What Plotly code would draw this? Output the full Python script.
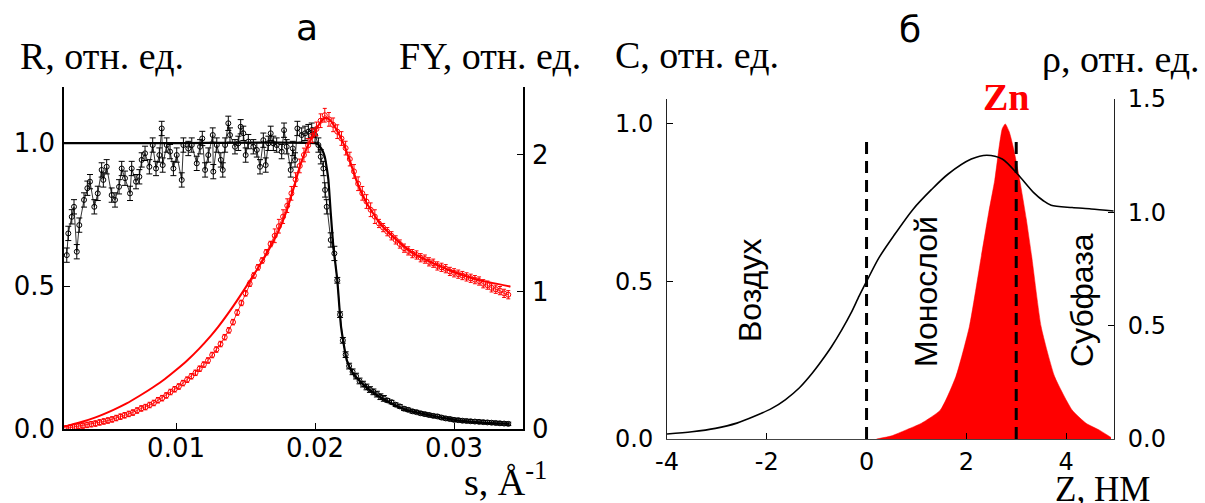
import plotly.graph_objects as go

W, H = 1205, 503

# ---------------- panel a data ----------------
s_R = [0.00214, 0.00225, 0.00250, 0.00266, 0.00286, 0.00304, 0.00338, 0.00362, 0.00381, 0.00412,
       0.00437, 0.00465, 0.00477, 0.00501, 0.00537, 0.00561, 0.00590, 0.00609, 0.00633, 0.00669,
       0.00681, 0.00712, 0.00736, 0.00753, 0.00777, 0.00808, 0.00832, 0.00856, 0.00880, 0.00897,
       0.00904, 0.00933, 0.00957, 0.00981, 0.01005, 0.01041, 0.01053, 0.01088, 0.01113, 0.01149,
       0.01173, 0.01189, 0.01209, 0.01232, 0.01264, 0.01268, 0.01293, 0.01322, 0.01336, 0.01353,
       0.01376, 0.01388, 0.01424, 0.01448, 0.01465, 0.01484, 0.01501, 0.01520, 0.01556, 0.01581,
       0.01604, 0.01628, 0.01645, 0.01664, 0.01681, 0.01700, 0.01724, 0.01760, 0.01777, 0.01796,
       0.01825, 0.01840, 0.01856, 0.01873, 0.01904, 0.01928, 0.01952, 0.01976, 0.02000, 0.02024,
       0.02041, 0.02060, 0.02072, 0.02084, 0.02113, 0.02139,
       0.02160, 0.02180, 0.02200, 0.02220, 0.02245, 0.02270, 0.02295, 0.02320, 0.02345, 0.02370,
       0.02395, 0.02420, 0.02445, 0.02470, 0.02495,
       0.02520, 0.02550, 0.02580, 0.02610, 0.02640, 0.02670, 0.02700, 0.02730, 0.02760, 0.02790,
       0.02820, 0.02850, 0.02880, 0.02910, 0.02940, 0.02970, 0.03000, 0.03030, 0.03060, 0.03090,
       0.03120, 0.03150, 0.03180, 0.03210, 0.03240, 0.03270, 0.03300, 0.03330, 0.03360, 0.03390]
R_data = [0.608, 0.684, 0.742, 0.777, 0.620, 0.713, 0.801, 0.842, 0.865, 0.777,
          0.824, 0.906, 0.871, 0.917, 0.818, 0.801, 0.847, 0.911, 0.877, 0.824,
          0.911, 0.865, 0.882, 0.941, 0.964, 0.917, 0.993, 0.911, 0.958, 1.051,
          0.923, 0.993, 0.970, 0.911, 0.958, 0.871, 0.993, 0.981, 0.993, 0.929,
          0.987, 1.016, 0.906, 0.958, 1.028, 0.900, 0.993, 0.941, 0.906, 0.993,
          1.069, 1.028, 0.987, 0.999, 1.057, 1.034, 0.958, 1.005, 0.987, 0.976,
          0.917, 1.010, 0.923, 0.999, 1.034, 0.999, 0.993, 0.970, 1.045, 0.987,
          0.906, 0.981, 0.941, 1.051, 1.028, 1.034, 1.040, 1.045, 1.028, 0.993,
          0.952, 0.911, 0.836, 0.777, 0.661, 0.614,
          0.520, 0.400, 0.310, 0.260, 0.220, 0.200, 0.185, 0.168, 0.157, 0.147,
          0.138, 0.130, 0.122, 0.113, 0.107,
          0.100, 0.094, 0.085, 0.079, 0.071, 0.067, 0.062, 0.059, 0.055, 0.052,
          0.049, 0.046, 0.044, 0.040, 0.037, 0.035, 0.032, 0.031, 0.029, 0.028,
          0.027, 0.026, 0.025, 0.024, 0.023, 0.022, 0.021, 0.020, 0.019, 0.018]
R_err = [0.025] * 86 + [0.010] * 15 + [0.006] * 30

s_R_fit = [0.00194, 0.01000, 0.02000, 0.02020, 0.02036, 0.02055, 0.02070, 0.02085, 0.02096, 0.02113,
           0.02132, 0.02160, 0.02187, 0.02228, 0.02270, 0.02324, 0.02390, 0.02463, 0.02540, 0.02626,
           0.02720, 0.02820, 0.02930, 0.03043, 0.03200, 0.03401]
R_fit = [1.000, 1.000, 1.000, 0.996, 0.987, 0.972, 0.952, 0.910, 0.871, 0.755,
         0.637, 0.521, 0.358, 0.241, 0.196, 0.166, 0.137, 0.113, 0.091, 0.072,
         0.059, 0.049, 0.038, 0.029, 0.022, 0.0175]

s_FY = [0.0021, 0.0024, 0.0027, 0.0030, 0.0033, 0.0036, 0.0039, 0.0042, 0.0045, 0.0048,
        0.0051, 0.0054, 0.0057, 0.0060, 0.0063, 0.0066, 0.0069, 0.0072, 0.0075, 0.0078,
        0.0081, 0.0084, 0.0087, 0.0090, 0.0093, 0.0096, 0.0099, 0.0102, 0.0105, 0.0108,
        0.0111, 0.0114, 0.0117, 0.0120, 0.0123, 0.0126, 0.0129, 0.0132, 0.0135, 0.0138,
        0.0141, 0.0144, 0.0147, 0.0150, 0.0153, 0.0156, 0.0159, 0.0162, 0.0165, 0.0168,
        0.0171, 0.0174, 0.0177, 0.0180, 0.0183, 0.0186, 0.0189, 0.0192, 0.0195, 0.0198,
        0.0201, 0.0204, 0.0207, 0.0210, 0.0213, 0.0216, 0.0219, 0.0222, 0.0225, 0.0228,
        0.0231, 0.0234, 0.0237, 0.0240, 0.0243, 0.0246, 0.0249, 0.0252, 0.0255, 0.0258,
        0.0261, 0.0264, 0.0267, 0.0270, 0.0273, 0.0276, 0.0279, 0.0282, 0.0285, 0.0288,
        0.0291, 0.0294, 0.0297, 0.0300, 0.0303, 0.0306, 0.0309, 0.0312, 0.0315, 0.0318,
        0.0321, 0.0324, 0.0327, 0.0330, 0.0333, 0.0336, 0.0339]
FY_data = [0.005, 0.010, 0.015, 0.020, 0.025, 0.030, 0.035, 0.040, 0.048, 0.055,
           0.062, 0.070, 0.080, 0.090, 0.100, 0.110, 0.120, 0.135, 0.150, 0.160,
           0.175, 0.190, 0.210, 0.225, 0.245, 0.270, 0.290, 0.310, 0.335, 0.360,
           0.385, 0.410, 0.440, 0.470, 0.500, 0.540, 0.580, 0.620, 0.670, 0.720,
           0.780, 0.850, 0.920, 0.990, 1.060, 1.120, 1.180, 1.230, 1.290, 1.350,
           1.410, 1.480, 1.550, 1.630, 1.720, 1.820, 1.920, 2.000, 2.070, 2.140,
           2.190, 2.250, 2.290, 2.260, 2.220, 2.170, 2.120, 2.050, 1.970, 1.880,
           1.790, 1.720, 1.660, 1.600, 1.550, 1.500, 1.470, 1.440, 1.410, 1.380,
           1.350, 1.320, 1.300, 1.280, 1.270, 1.250, 1.240, 1.220, 1.210, 1.190,
           1.180, 1.170, 1.150, 1.140, 1.130, 1.120, 1.110, 1.100, 1.090, 1.080,
           1.060, 1.050, 1.030, 1.020, 1.010, 0.990, 0.980]
FY_err = [0.02] * 50 + [0.05] * 25 + [0.03] * 32

s_FY_fit = [0.00194, 0.00300, 0.00421, 0.00550, 0.00641, 0.00750, 0.00835, 0.00920, 0.01000, 0.01080,
            0.01165, 0.01250, 0.01303, 0.01414, 0.01524, 0.01635, 0.01700, 0.01748, 0.01795, 0.01844,
            0.01892, 0.01940, 0.01988, 0.02036, 0.02072, 0.02108, 0.02156, 0.02204, 0.02252, 0.02300,
            0.02372, 0.02468, 0.02588, 0.02708, 0.02852, 0.02996, 0.03164, 0.03406]
FY_fit = [0.017, 0.045, 0.085, 0.140, 0.185, 0.250, 0.305, 0.365, 0.430, 0.500,
          0.585, 0.680, 0.745, 0.900, 1.070, 1.250, 1.370, 1.470, 1.590, 1.750,
          1.920, 2.050, 2.150, 2.235, 2.270, 2.255, 2.182, 2.085, 1.951, 1.805,
          1.647, 1.501, 1.380, 1.282, 1.209, 1.148, 1.092, 1.039]

# ---------------- panel b data ----------------
z_rho = [-4.0, -3.5, -3.03, -2.6, -2.26, -1.9, -1.63, -1.35, -1.09, -0.9, -0.7, -0.5, -0.31, -0.15,
         0.0, 0.25, 0.54, 0.93, 1.3, 1.63, 2.1, 2.41, 2.72, 3.03, 3.35, 3.55, 3.7, 4.12, 4.5, 4.95]
rho = [0.022, 0.032, 0.047, 0.070, 0.099, 0.135, 0.173, 0.225, 0.290, 0.345, 0.408, 0.480, 0.556, 0.630,
       0.695, 0.800, 0.895, 1.013, 1.100, 1.168, 1.235, 1.252, 1.235, 1.168, 1.087, 1.050, 1.031, 1.021,
       1.015, 1.006]

z_zn = [0.2, 0.5, 0.78, 1.1, 1.48, 1.79, 2.06, 2.30, 2.45, 2.57, 2.66, 2.72, 2.78, 2.86, 2.95, 3.07,
        3.20, 3.31, 3.50, 3.77, 4.12, 4.40, 4.67, 4.90]
c_zn = [0.0, 0.010, 0.028, 0.050, 0.092, 0.198, 0.356, 0.580, 0.720, 0.822, 0.930, 0.985, 1.0, 0.975,
        0.920, 0.822, 0.700, 0.580, 0.356, 0.198, 0.092, 0.050, 0.028, 0.005]

z_dash = [0.0, 3.0]
c_dash_top = 0.95

labels_b = ["Воздух", "Монослой", "Субфаза"]


def px(x):
    return x / W


def py(y):
    return 1 - y / H


fig = go.Figure()

RED = "#ff0000"
fig.add_trace(go.Scatter(
    x=s_FY, y=FY_data, mode="lines+markers", xaxis="x", yaxis="y2",
    line=dict(color=RED, width=0.8),
    marker=dict(symbol="circle-open", size=5, color=RED, line=dict(width=1)),
    error_y=dict(type="data", array=FY_err, visible=True, color=RED, thickness=1, width=2),
    showlegend=False))
fig.add_trace(go.Scatter(
    x=s_FY_fit, y=FY_fit, mode="lines", xaxis="x", yaxis="y2",
    line=dict(color=RED, width=2, shape="spline", smoothing=0.5), showlegend=False))
fig.add_trace(go.Scatter(
    x=s_R, y=R_data, mode="lines+markers", xaxis="x", yaxis="y",
    line=dict(color="black", width=0.8),
    marker=dict(symbol="circle-open", size=5, color="black", line=dict(width=1)),
    error_y=dict(type="data", array=R_err, visible=True, color="black", thickness=1, width=3),
    showlegend=False))
fig.add_trace(go.Scatter(
    x=s_R_fit, y=R_fit, mode="lines", xaxis="x", yaxis="y",
    line=dict(color="black", width=2.2, shape="spline", smoothing=0.5), showlegend=False))

fig.add_trace(go.Scatter(
    x=z_zn, y=c_zn, mode="lines", xaxis="x2", yaxis="y3", fill="tozeroy",
    fillcolor=RED, line=dict(color=RED, width=0.5, shape="spline", smoothing=0.5), showlegend=False))
for zd in z_dash:
    fig.add_trace(go.Scatter(
        x=[zd, zd], y=[0, c_dash_top], mode="lines", xaxis="x2", yaxis="y3",
        line=dict(color="black", width=3, dash="12px,7px"), showlegend=False))
fig.add_trace(go.Scatter(
    x=z_rho, y=rho, mode="lines", xaxis="x2", yaxis="y4",
    line=dict(color="black", width=1.6, shape="spline", smoothing=0.8), showlegend=False))

TICK_A = dict(family="DejaVu Sans", size=26, color="black")
TICK_B = dict(family="DejaVu Sans", size=24, color="black")


def axis(font, lw=1.5, lc="black"):
    return dict(showgrid=False, zeroline=False, showline=True, linecolor=lc, linewidth=lw,
                ticks="inside", ticklen=6, tickcolor="black", tickfont=font, automargin=False)


ya_dom = [py(429), py(87)]
yb_dom = [py(439), py(99)]

fig.update_layout(
    width=W, height=H, margin=dict(l=0, r=0, t=0, b=0, autoexpand=False),
    paper_bgcolor="white", plot_bgcolor="white",
    xaxis=dict(domain=[px(64), px(523)], range=[0.00194, 0.03496], anchor="y",
               tickvals=[0.01, 0.02, 0.03], ticktext=["0.01", "0.02", "0.03"],
               ticklabelstandoff=-5, **axis(TICK_A)),
    yaxis=dict(domain=ya_dom, range=[0, 1.196], anchor="x",
               tickvals=[0, 0.5, 1.0], ticktext=["0.0", "0.5", "1.0"], ticklabelstandoff=2, **axis(TICK_A)),
    yaxis2=dict(domain=ya_dom, range=[0, 2.496], anchor="x", overlaying="y", side="right",
                tickvals=[0, 1, 2], ticktext=["0", "1", "2"], ticklabelstandoff=2, **axis(TICK_A)),
    xaxis2=dict(domain=[px(667), px(1114)], range=[-4, 4.96], anchor="y3",
                tickvals=[-4, -2, 0, 2, 4], ticktext=["-4", "-2", "0", "2", "4"],
                ticklabelstandoff=1, **axis(TICK_B, 1, "#444")),
    yaxis3=dict(domain=yb_dom, range=[0, 1.079], anchor="x2",
                tickvals=[0, 0.5, 1.0], ticktext=["0.0", "0.5", "1.0"], ticklabelstandoff=8,
                **axis(TICK_B, 1, "#222")),
    yaxis4=dict(domain=yb_dom, range=[0, 1.5], anchor="x2", overlaying="y3", side="right",
                tickvals=[0, 0.5, 1.0, 1.5], ticktext=["0.0", "0.5", "1.0", "1.5"], ticklabelstandoff=8,
                **axis(TICK_B, 1, "#222")),
)

SERIF = "Liberation Serif, Times New Roman"
SANS = "Liberation Sans, Arial"
ann = []


def add_text(text, x, y, size, family, color="black", angle=0, bold=False):
    t = f"<b>{text}</b>" if bold else text
    ann.append(dict(text=t, x=px(x), y=py(y), xref="paper", yref="paper", showarrow=False,
                    xanchor="center", yanchor="middle", textangle=angle,
                    font=dict(family=family, size=size, color=color)))


add_text("а", 307, 27, 36, "DejaVu Sans")
add_text("б", 910, 30, 36, "DejaVu Sans")
add_text("R, отн. ед.", 102, 56, 38, SERIF)
add_text("FY, отн. ед.", 490, 56, 38, SERIF)
add_text("С, отн. ед.", 697, 55, 38, SERIF)
add_text("ρ, отн. ед.", 1121, 59, 38, SERIF)
add_text("s, Å<sup>-1</sup>", 505, 479, 38, SERIF)
add_text("Z, НМ", 1102, 489, 35, SERIF)
add_text("Zn", 1006, 97, 38, SERIF, color=RED, bold=True)
add_text(labels_b[0], 750, 291, 32, SANS, angle=-90)
add_text(labels_b[1], 926, 292, 32, SANS, angle=-90)
add_text(labels_b[2], 1082, 300, 32, SANS, angle=-90)

fig.update_layout(annotations=ann)
fig.write_html("out.html")
